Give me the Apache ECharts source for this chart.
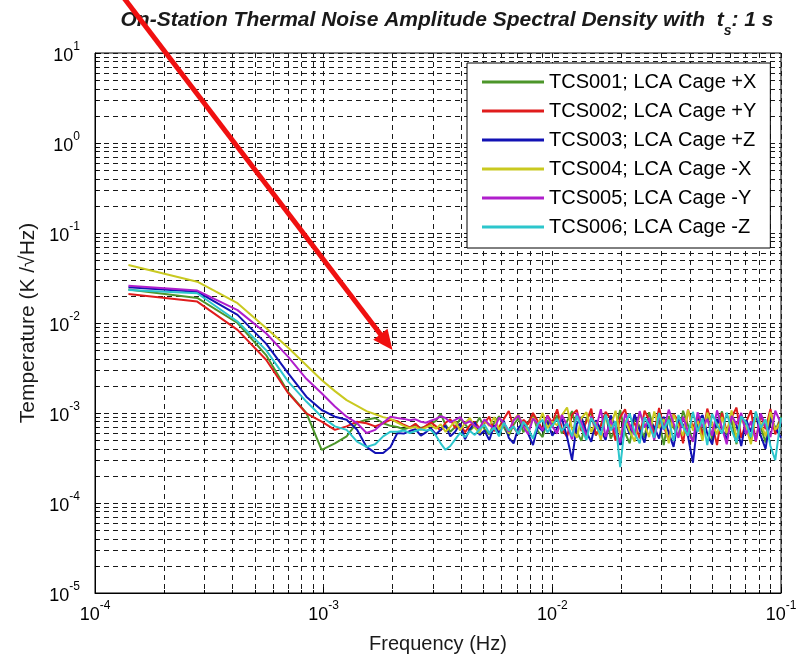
<!DOCTYPE html>
<html><head><meta charset="utf-8">
<script src="https://cdn.jsdelivr.net/npm/echarts@6/dist/echarts.min.js"></script>
<style>html,body{margin:0;padding:0;background:#fff}#c{width:805px;height:659px}</style>
</head><body><div id="c"></div>
<script>
// Frequency bins (Hz)
const freqLow = [1.4e-4, 2.8e-4, 4.2e-4, 5.6e-4, 7.0e-4, 8.4e-4, 9.8e-4, 1.12e-3, 1.26e-3, 1.40e-3, 1.54e-3, 1.68e-3, 1.82e-3, 1.96e-3,
  2.10e-3, 2.24e-3, 2.38e-3, 2.52e-3, 2.66e-3, 2.80e-3, 2.94e-3];
const freqMid = [3.10e-3, 3.25e-3, 3.41e-3, 3.58e-3, 3.76e-3, 3.95e-3, 4.15e-3, 4.36e-3, 4.58e-3, 4.81e-3, 5.05e-3, 5.30e-3, 5.57e-3,
  5.85e-3, 6.14e-3, 6.45e-3, 6.77e-3, 7.11e-3, 7.47e-3, 7.84e-3, 8.23e-3, 8.64e-3, 9.07e-3, 9.52e-3, 1.0e-2];
const freqHigh = [1.05e-2, 1.10e-2, 1.16e-2, 1.22e-2, 1.28e-2, 1.34e-2, 1.41e-2, 1.48e-2, 1.55e-2, 1.63e-2, 1.71e-2, 1.80e-2, 1.89e-2,
  1.98e-2, 2.08e-2, 2.18e-2, 2.29e-2, 2.41e-2, 2.53e-2, 2.65e-2, 2.79e-2, 2.93e-2, 3.07e-2, 3.23e-2, 3.39e-2, 3.56e-2, 3.73e-2,
  3.92e-2, 4.12e-2, 4.32e-2, 4.54e-2, 4.76e-2, 5.00e-2, 5.25e-2, 5.52e-2, 5.79e-2, 6.08e-2, 6.39e-2, 6.70e-2, 7.04e-2, 7.39e-2,
  7.76e-2, 8.15e-2, 8.56e-2, 8.99e-2, 9.44e-2, 1.0e-1];

const seriesNames = ['TCS001; LCA Cage +X', 'TCS002; LCA Cage +Y', 'TCS003; LCA Cage +Z', 'TCS004; LCA Cage -X', 'TCS005; LCA Cage -Y', 'TCS006; LCA Cage -Z'];
const seriesColors = ['#4c962a', '#e01c1c', '#1212b4', '#c9c920', '#b01ecc', '#2cc6cc'];

// Amplitude spectral density (K/sqrt(Hz))
const tcs001 = [2.35e-2, 1.9e-2, 1.0e-2, 4.4e-3, 1.7e-3, 1.0e-3, 3.9e-4, 4.6e-4, 5.5e-4, 7.8e-4, 8.4e-4, 8.8e-4, 7.7e-4, 7.2e-4,
  7.0e-4, 6.6e-4, 6.9e-4, 7.4e-4, 6.8e-4, 7.1e-4, 7.6e-4,
  8.2e-4, 9.8e-4, 7.4e-4, 6.2e-4, 7.0e-4, 8.6e-4, 7.5e-4, 6.4e-4, 7.2e-4, 8.9e-4, 6.6e-4, 5.8e-4, 7.8e-4, 9.2e-4, 6.9e-4, 5.6e-4, 7.4e-4, 8.8e-4, 6.1e-4, 7.9e-4, 9.6e-4, 6.3e-4, 5.4e-4, 8.3e-4, 7.0e-4,
  9.4e-4, 5.9e-4, 8.1e-4, 1.05e-3, 6.2e-4, 4.9e-4, 8.7e-4, 1.0e-3, 5.6e-4, 7.4e-4, 9.8e-4, 5.2e-4, 6.8e-4, 1.08e-3, 6.0e-4, 4.6e-4, 8.9e-4, 7.1e-4, 5.3e-4, 1.02e-3, 6.4e-4, 8.3e-4, 4.4e-4, 9.2e-4, 6.9e-4, 5.5e-4, 1.06e-3, 7.3e-4, 4.8e-4, 8.6e-4, 6.1e-4, 9.9e-4, 5.0e-4, 7.7e-4, 1.04e-3, 5.7e-4, 8.2e-4, 4.5e-4, 9.5e-4, 6.6e-4, 5.1e-4, 1.0e-3, 7.0e-4, 4.7e-4, 8.8e-4, 6.3e-4, 9.1e-4];
const tcs002 = [2.1e-2, 1.73e-2, 8.4e-3, 3.9e-3, 1.66e-3, 9.9e-4, 8.0e-4, 6.5e-4, 7.1e-4, 8.0e-4, 7.7e-4, 7.1e-4, 7.7e-4, 8.4e-4,
  8.1e-4, 7.4e-4, 6.9e-4, 7.6e-4, 6.6e-4, 7.2e-4, 7.9e-4,
  7.1e-4, 6.4e-4, 7.8e-4, 8.5e-4, 6.8e-4, 7.6e-4, 6.1e-4, 7.3e-4, 8.0e-4, 6.7e-4, 7.7e-4, 9.1e-4, 6.3e-4, 7.0e-4, 8.6e-4, 1.05e-3, 6.9e-4, 5.8e-4, 8.4e-4, 7.5e-4, 1.0e-3, 8.1e-4, 6.5e-4, 9.4e-4, 7.8e-4,
  1.1e-3, 6.7e-4, 5.4e-4, 9.6e-4, 1.08e-3, 6.3e-4, 8.0e-4, 1.12e-3, 5.7e-4, 7.2e-4, 1.03e-3, 8.6e-4, 4.9e-4, 9.0e-4, 1.1e-3, 6.5e-4, 7.8e-4, 5.2e-4, 1.06e-3, 8.4e-4, 6.0e-4, 1.14e-3, 7.1e-4, 5.0e-4, 9.7e-4, 8.2e-4, 4.6e-4, 1.09e-3, 6.8e-4, 9.3e-4, 5.5e-4, 1.12e-3, 7.5e-4, 4.4e-4, 1.0e-3, 6.2e-4, 8.9e-4, 1.15e-3, 5.3e-4, 7.9e-4, 1.07e-3, 4.8e-4, 9.5e-4, 6.6e-4, 1.11e-3, 5.8e-4, 8.7e-4];
const tcs003 = [2.5e-2, 2.23e-2, 1.23e-2, 5.9e-3, 2.76e-3, 1.52e-3, 1.08e-3, 9.1e-4, 8.4e-4, 6.5e-4, 4.2e-4, 3.6e-4, 3.6e-4, 4.2e-4,
  6.0e-4, 5.9e-4, 6.3e-4, 6.6e-4, 5.6e-4, 6.1e-4, 6.8e-4,
  5.8e-4, 6.5e-4, 7.2e-4, 5.5e-4, 6.2e-4, 7.6e-4, 5.1e-4, 6.6e-4, 7.9e-4, 5.7e-4, 6.4e-4, 5.0e-4, 7.3e-4, 6.0e-4, 8.2e-4, 5.3e-4, 4.6e-4, 6.9e-4, 7.7e-4, 5.9e-4, 4.4e-4, 7.1e-4, 6.3e-4, 8.0e-4, 5.6e-4,
  6.8e-4, 8.7e-4, 5.4e-4, 3.0e-4, 7.6e-4, 9.0e-4, 6.1e-4, 4.8e-4, 8.3e-4, 6.5e-4, 5.0e-4, 9.4e-4, 7.2e-4, 4.4e-4, 8.0e-4, 5.8e-4, 9.7e-4, 6.4e-4, 4.7e-4, 8.5e-4, 7.0e-4, 5.2e-4, 9.1e-4, 6.0e-4, 4.2e-4, 8.8e-4, 7.4e-4, 5.5e-4, 2.8e-4, 8.1e-4, 9.5e-4, 5.9e-4, 4.5e-4, 8.6e-4, 6.7e-4, 5.1e-4, 9.2e-4, 7.3e-4, 4.3e-4, 8.4e-4, 6.2e-4, 9.8e-4, 5.6e-4, 4.0e-4, 8.9e-4, 6.9e-4, 5.3e-4];
const tcs004 = [4.4e-2, 2.88e-2, 1.66e-2, 8.8e-3, 5.3e-3, 3.4e-3, 2.33e-3, 1.75e-3, 1.39e-3, 1.2e-3, 1.05e-3, 9.7e-4, 9.0e-4, 8.6e-4,
  7.8e-4, 7.2e-4, 6.8e-4, 7.0e-4, 6.5e-4, 6.9e-4, 7.3e-4,
  6.7e-4, 7.5e-4, 6.2e-4, 7.0e-4, 8.1e-4, 6.4e-4, 7.7e-4, 8.8e-4, 6.9e-4, 6.0e-4, 8.3e-4, 7.2e-4, 9.0e-4, 6.5e-4, 7.8e-4, 5.9e-4, 8.5e-4, 9.6e-4, 7.1e-4, 6.3e-4, 8.9e-4, 7.4e-4, 1.0e-3, 6.8e-4, 8.0e-4,
  7.3e-4, 9.4e-4, 1.15e-3, 6.6e-4, 5.3e-4, 8.8e-4, 1.02e-3, 6.1e-4, 7.9e-4, 5.0e-4, 9.3e-4, 7.0e-4, 1.06e-3, 5.7e-4, 8.4e-4, 6.3e-4, 4.8e-4, 9.9e-4, 7.5e-4, 5.4e-4, 1.04e-3, 6.8e-4, 8.6e-4, 4.6e-4, 9.6e-4, 7.2e-4, 5.6e-4, 1.08e-3, 6.4e-4, 8.2e-4, 4.9e-4, 1.01e-3, 7.6e-4, 5.8e-4, 9.0e-4, 6.0e-4, 1.07e-3, 5.2e-4, 8.5e-4, 6.9e-4, 4.5e-4, 9.7e-4, 7.8e-4, 5.5e-4, 1.03e-3, 6.5e-4, 8.0e-4];
const tcs005 = [2.59e-2, 2.29e-2, 1.39e-2, 7.7e-3, 4.2e-3, 2.4e-3, 1.66e-3, 1.18e-3, 9.1e-4, 7.7e-4, 6.0e-4, 6.5e-4, 7.8e-4, 9.1e-4,
  8.8e-4, 8.6e-4, 8.3e-4, 8.5e-4, 8.0e-4, 7.8e-4, 8.2e-4,
  8.6e-4, 9.2e-4, 8.8e-4, 7.9e-4, 8.4e-4, 9.0e-4, 7.6e-4, 8.1e-4, 7.2e-4, 6.8e-4, 8.5e-4, 7.4e-4, 6.6e-4, 8.9e-4, 7.7e-4, 6.2e-4, 8.3e-4, 9.4e-4, 7.0e-4, 5.8e-4, 8.7e-4, 7.5e-4, 6.4e-4, 9.3e-4, 7.1e-4,
  5.9e-4, 9.5e-4, 7.3e-4, 5.1e-4, 1.0e-3, 7.8e-4, 5.5e-4, 9.2e-4, 6.7e-4, 1.1e-3, 5.4e-4, 8.3e-4, 6.1e-4, 4.7e-4, 9.8e-4, 7.4e-4, 5.7e-4, 1.05e-3, 6.9e-4, 8.8e-4, 5.0e-4, 9.4e-4, 6.5e-4, 1.09e-3, 7.7e-4, 5.3e-4, 9.1e-4, 6.2e-4, 4.8e-4, 1.02e-3, 7.0e-4, 8.6e-4, 5.6e-4, 1.07e-3, 6.8e-4, 4.5e-4, 9.3e-4, 7.5e-4, 1.0e-3, 5.8e-4, 8.1e-4, 4.9e-4, 9.9e-4, 7.2e-4, 5.4e-4, 1.06e-3, 7.6e-4];
const tcs006 = [2.33e-2, 2.14e-2, 1.04e-2, 5.0e-3, 2.23e-3, 1.34e-3, 9.1e-4, 7.1e-4, 6.5e-4, 4.8e-4, 4.2e-4, 4.5e-4, 5.5e-4, 6.2e-4,
  6.2e-4, 6.4e-4, 6.0e-4, 6.3e-4, 6.6e-4, 6.4e-4, 6.5e-4,
  5.6e-4, 4.6e-4, 3.9e-4, 4.3e-4, 5.1e-4, 6.0e-4, 5.4e-4, 6.3e-4, 5.7e-4, 6.6e-4, 7.4e-4, 6.0e-4, 6.9e-4, 5.5e-4, 7.8e-4, 6.4e-4, 7.1e-4, 5.8e-4, 8.0e-4, 6.7e-4, 5.2e-4, 7.5e-4, 8.4e-4, 6.1e-4, 7.3e-4,
  8.6e-4, 6.3e-4, 7.7e-4, 5.5e-4, 9.3e-4, 6.9e-4, 5.0e-4, 8.8e-4, 7.2e-4, 5.7e-4, 9.6e-4, 6.4e-4, 8.1e-4, 2.5e-4, 7.5e-4, 9.9e-4, 6.0e-4, 4.6e-4, 9.0e-4, 7.3e-4, 5.3e-4, 1.0e-3, 6.6e-4, 8.4e-4, 4.9e-4, 9.5e-4, 7.0e-4, 5.6e-4, 1.03e-3, 6.2e-4, 8.7e-4, 4.4e-4, 9.8e-4, 7.4e-4, 5.9e-4, 1.01e-3, 6.5e-4, 4.7e-4, 9.2e-4, 7.8e-4, 5.4e-4, 1.04e-3, 6.8e-4, 8.5e-4, 4.3e-4, 3.0e-4, 8.9e-4];
const seriesValues = [tcs001, tcs002, tcs003, tcs004, tcs005, tcs006];

// Annotation arrow (data coordinates: tail, tip)
const arrowTail = [1.30e-4, 45];
const arrowTip = [2.0e-3, 5.0e-3];

const freq = freqLow.concat(freqMid, freqHigh);
const FONT = 'Liberation Sans, Arial, sans-serif';
const gridStyle = {color: '#1a1a1a', type: [5, 4], width: 1};
const expLabel = {
  formatter: v => '{b|10}{e|' + Math.round(Math.log10(v)) + '}',
  rich: {
    b: {fontSize: 18, fontFamily: FONT, color: '#000', lineHeight: 24, verticalAlign: 'bottom'},
    e: {fontSize: 12, fontFamily: FONT, color: '#000', lineHeight: 24, verticalAlign: 'top'}
  }
};

const chart = echarts.init(document.getElementById('c'), null, {renderer: 'canvas'});
chart.setOption({
  animation: false,
  backgroundColor: '#fff',
  title: {
    text: '{t|On-Station Thermal Noise Amplitude Spectral Density with  t}{s|s}{t|: 1 s}',
    left: 442, top: 5, textAlign: 'center',
    textStyle: {
      rich: {
        t: {fontSize: 21, fontStyle: 'italic', fontWeight: 'bold', fontFamily: FONT, color: '#1a1a1a', lineHeight: 28, verticalAlign: 'top'},
        s: {fontSize: 14, fontStyle: 'italic', fontWeight: 'bold', fontFamily: FONT, color: '#1a1a1a', lineHeight: 28, verticalAlign: 'bottom'}
      }
    }
  },
  grid: {left: 95, right: 24, top: 53, bottom: 66, show: true, borderColor: '#000', borderWidth: 1, backgroundColor: 'transparent'},
  legend: {
    orient: 'vertical', left: 467, top: 63,
    itemWidth: 62, itemHeight: 3, icon: 'rect', itemGap: 9,
    padding: [9, 14, 11, 15],
    borderColor: '#000', borderWidth: 1, backgroundColor: '#fff',
    textStyle: {fontSize: 20, fontFamily: FONT, color: '#000', lineHeight: 20},
    selectedMode: false,
    data: seriesNames
  },
  xAxis: {
    type: 'log', logBase: 10, min: 1e-4, max: 1e-1,
    axisLine: {show: true, onZero: false, lineStyle: {color: '#000', width: 1}},
    axisTick: {show: true, inside: true, length: 6, lineStyle: {color: '#000'}},
    minorTick: {show: true, splitNumber: 9, length: 3, lineStyle: {color: '#000'}},
    splitLine: {show: true, lineStyle: gridStyle},
    minorSplitLine: {show: true, lineStyle: gridStyle},
    axisLabel: Object.assign({margin: 7}, expLabel),
    name: 'Frequency (Hz)', nameLocation: 'middle', nameGap: 41,
    nameTextStyle: {fontSize: 20, fontFamily: FONT, color: '#1a1a1a'}
  },
  yAxis: {
    type: 'log', logBase: 10, min: 1e-5, max: 10,
    axisLine: {show: true, onZero: false, lineStyle: {color: '#000', width: 1}},
    axisTick: {show: true, inside: true, length: 6, lineStyle: {color: '#000'}},
    minorTick: {show: true, splitNumber: 9, length: 3, lineStyle: {color: '#000'}},
    splitLine: {show: true, lineStyle: gridStyle},
    minorSplitLine: {show: true, lineStyle: gridStyle},
    axisLabel: Object.assign({margin: 15}, expLabel),
    name: 'Temperature (K /√Hz)', nameLocation: 'middle', nameGap: 56,
    nameTextStyle: {fontSize: 21, fontFamily: FONT, color: '#1a1a1a'}
  },
  series: seriesNames.map((name, k) => ({
    name: name, type: 'line', symbol: 'none', showSymbol: false, clip: true,
    color: seriesColors[k],
    lineStyle: {width: 2, color: seriesColors[k]},
    itemStyle: {color: seriesColors[k]},
    data: freq.map((f, i) => [f, seriesValues[k][i]])
  }))
});

// Red annotation arrow, placed through the chart's own coordinate conversion
const p0 = chart.convertToPixel({gridIndex: 0}, arrowTail);
const p1 = chart.convertToPixel({gridIndex: 0}, arrowTip);
const dx = p1[0] - p0[0], dy = p1[1] - p0[1];
const len = Math.sqrt(dx * dx + dy * dy);
const ux = dx / len, uy = dy / len;
const headL = 20, headW = 9;
const bx = p1[0] - ux * headL, by = p1[1] - uy * headL;
chart.setOption({
  graphic: [
    {type: 'line', z: 100, shape: {x1: p0[0], y1: p0[1], x2: bx + ux * 2, y2: by + uy * 2}, style: {stroke: '#f01010', lineWidth: 5}},
    {type: 'polygon', z: 100, shape: {points: [[p1[0], p1[1]], [bx - uy * headW, by + ux * headW], [bx + uy * headW, by - ux * headW]]}, style: {fill: '#f01010'}}
  ]
});
</script>
</body></html>
